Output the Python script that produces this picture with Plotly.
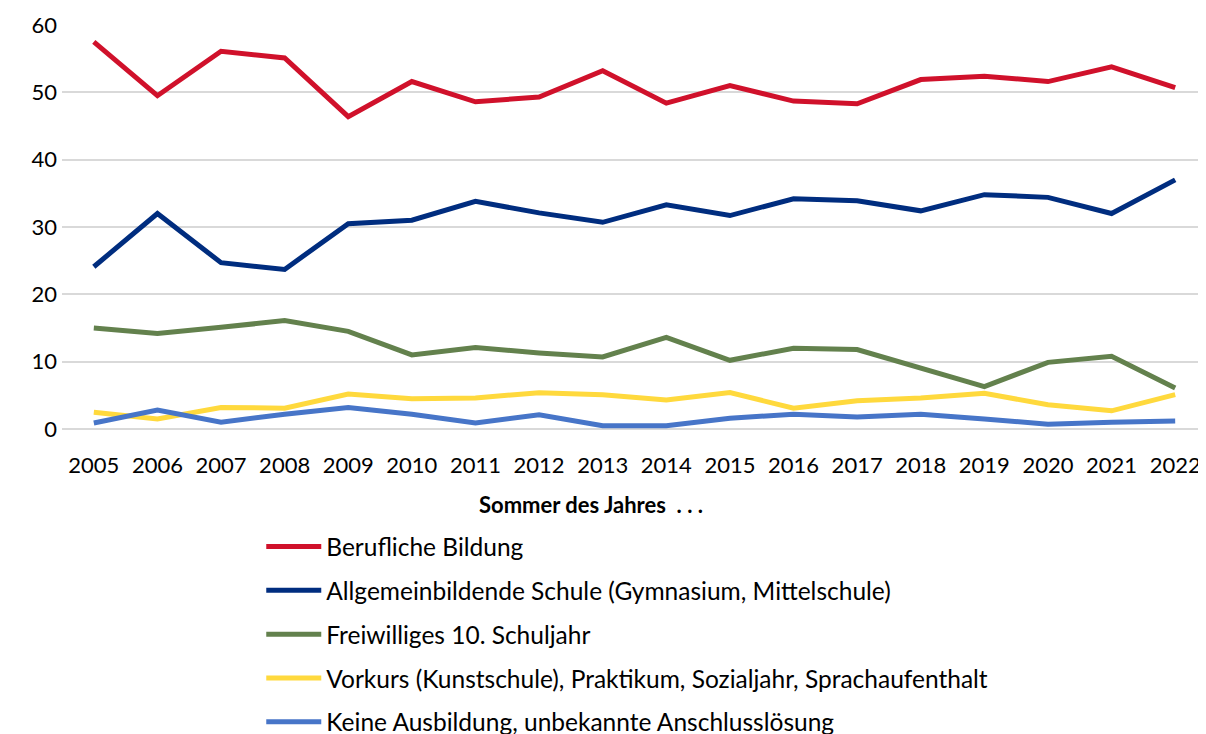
import plotly.graph_objects as go

years = [str(y) for y in range(2005, 2023)]

berufliche_bildung = [57.5, 49.5, 56.1, 55.1, 46.4, 51.6, 48.6, 49.3, 53.2, 48.4,
                      51.0, 48.7, 48.3, 51.9, 52.4, 51.6, 53.8, 50.7]
allgemeinbildende_schule = [24.1, 32.0, 24.7, 23.7, 30.5, 31.0, 33.8, 32.1, 30.7, 33.3,
                            31.7, 34.2, 33.9, 32.4, 34.8, 34.4, 32.0, 37.0]
freiwilliges_10 = [15.0, 14.2, 15.1, 16.1, 14.5, 11.0, 12.1, 11.3, 10.7, 13.6,
                   10.2, 12.0, 11.8, 9.0, 6.3, 9.9, 10.8, 6.1]
vorkurs = [2.5, 1.5, 3.2, 3.1, 5.2, 4.5, 4.6, 5.4, 5.1, 4.3,
           5.4, 3.1, 4.2, 4.6, 5.3, 3.6, 2.7, 5.1]
keine_ausbildung = [0.9, 2.8, 1.0, 2.2, 3.2, 2.2, 0.9, 2.1, 0.5, 0.5,
                    1.6, 2.2, 1.8, 2.2, 1.5, 0.7, 1.0, 1.2]

series = [
    ("Berufliche Bildung", berufliche_bildung, "#D0112B"),
    ("Allgemeinbildende Schule (Gymnasium, Mittelschule)", allgemeinbildende_schule, "#002D7F"),
    ("Freiwilliges 10. Schuljahr", freiwilliges_10, "#63814D"),
    ("Vorkurs (Kunstschule), Praktikum, Sozialjahr, Sprachaufenthalt", vorkurs, "#FFD93D"),
    ("Keine Ausbildung, unbekannte Anschlusslösung", keine_ausbildung, "#4775C8"),
]

fig = go.Figure()
for i, (name, values, color) in enumerate(series):
    fig.add_trace(
        go.Scatter(
            x=years,
            y=values,
            name=name,
            mode="lines",
            line=dict(color=color, width=5),
            legendgroup=f"g{i}",
        )
    )

# page body has an 8px margin, so the figure is shifted by that amount
fig.update_layout(
    width=1206,
    height=734,
    paper_bgcolor="white",
    plot_bgcolor="white",
    font=dict(family="Lato, Carlito, sans-serif", size=22, color="#000000"),
    margin=dict(l=54, r=7, t=17, b=313, autoexpand=False),
    legend=dict(
        orientation="v",
        xref="container",
        yref="container",
        x=0.210,
        y=0.297,
        xanchor="left",
        yanchor="top",
        font=dict(size=24.5),
        tracegroupgap=9,
        itemwidth=55,
        bgcolor="rgba(0,0,0,0)",
    ),
    annotations=[
        dict(
            text="<b>Sommer des Jahres  . . .</b>",
            xref="paper",
            yref="paper",
            x=0.462,
            y=-0.188,
            xanchor="center",
            yanchor="middle",
            showarrow=False,
            font=dict(size=22),
        )
    ],
)
fig.update_xaxes(
    type="category",
    range=[-0.5, len(years) - 0.5],
    showgrid=False,
    showline=False,
    ticks="",
    tickangle=0,
    ticklabelstandoff=21,
)
fig.update_yaxes(
    range=[0, 60],
    dtick=10,
    showgrid=True,
    gridcolor="#D9D9D9",
    gridwidth=1.5,
    zeroline=True,
    zerolinecolor="#D9D9D9",
    zerolinewidth=1.5,
    showline=False,
    ticks="",
    ticklabelstandoff=4,
)

fig.write_html("out.html")
